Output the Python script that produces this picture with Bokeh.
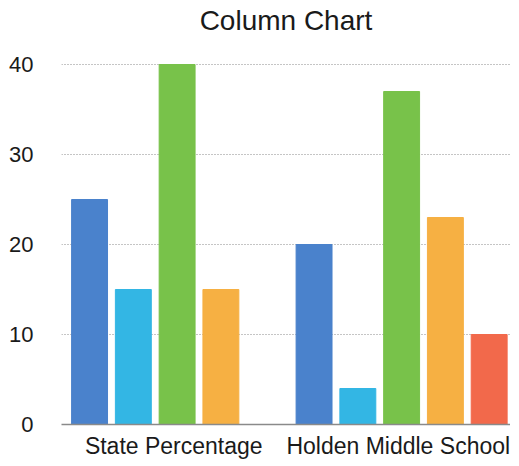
from bokeh.plotting import figure
from bokeh.models import ColumnDataSource, FactorRange, Range1d, FixedTicker
from bokeh.transform import dodge
from bokeh.embed import file_html
from bokeh.resources import INLINE

categories = ["State Percentage", "Holden Middle School"]
series_1 = [25, 20]
series_2 = [15, 4]
series_3 = [40, 37]
series_4 = [15, 23]
series_5 = [0, 10]
y_ticks = [0, 10, 20, 30, 40]

colors = ["#4a82cc", "#33b6e4", "#78c24a", "#f6b043", "#f2694b"]
offsets = [-0.375, -0.18, 0.015, 0.21, 0.405]

src = ColumnDataSource(dict(cat=categories, s1=series_1, s2=series_2, s3=series_3,
                            s4=series_4, s5=series_5))

p = figure(x_range=FactorRange(*categories, range_padding=0),
           y_range=Range1d(0, 43.0),
           frame_width=449, frame_height=387,
           output_backend="svg", toolbar_location=None,
           title="Column Chart")
p.min_border_left = 61
p.min_border_right = 0
p.min_border_top = 0
p.min_border_bottom = 0
p.outline_line_color = None

for i, (k, c) in enumerate(zip(["s1", "s2", "s3", "s4", "s5"], colors)):
    p.vbar(x=dodge("cat", offsets[i], range=p.x_range), top=k, width=0.16,
           source=src, fill_color=c, line_color=c, line_width=1)

p.title.align = "center"
p.title.text_font = "Liberation Sans"
p.title.text_font_size = "28px"
p.title.text_font_style = "normal"
p.title.text_color = "#1a1a1a"
p.title.standoff = 4

p.xgrid.grid_line_color = None
p.ygrid.grid_line_color = "#8a8a8a"
p.ygrid.grid_line_dash = "1 2"
p.ygrid.grid_line_width = 1

p.yaxis.ticker = FixedTicker(ticks=y_ticks)
p.yaxis.axis_line_color = None
p.yaxis.major_tick_line_color = None
p.yaxis.minor_tick_line_color = None
p.yaxis.major_tick_out = 0
p.yaxis.major_tick_in = 0
p.yaxis.major_label_standoff = 28
p.yaxis.major_label_text_font = "Liberation Sans"
p.yaxis.major_label_text_font_size = "22px"
p.yaxis.major_label_text_color = "#1a1a1a"

p.xaxis.axis_line_color = "#8a8a8a"
p.xaxis.axis_line_width = 1.5
p.xaxis.major_tick_line_color = None
p.xaxis.minor_tick_line_color = None
p.xaxis.major_tick_out = 0
p.xaxis.major_tick_in = 0
p.xaxis.major_label_standoff = 8
p.xaxis.major_label_text_font = "Liberation Sans"
p.xaxis.major_label_text_font_size = "23px"
p.xaxis.major_label_text_color = "#1a1a1a"

open("out.html", "w").write(file_html(p, INLINE))
